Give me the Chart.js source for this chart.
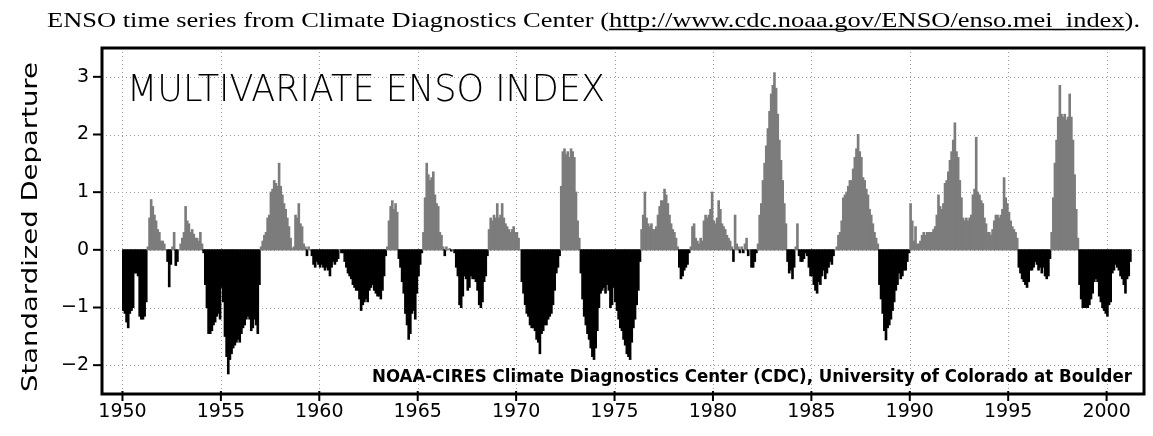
<!DOCTYPE html>
<html><head><meta charset="utf-8">
<script src="https://cdn.jsdelivr.net/npm/chart.js@4/dist/chart.umd.min.js"></script>
<style>html,body{margin:0;padding:0;background:#fff;}#wrap{width:1153px;height:436px;position:relative;}</style>
</head><body><div id="wrap"><canvas id="c" width="1153" height="436"></canvas></div>
<script>
// ---- Data (monthly MEI) ----
const startYear = 1950;
const mei1950s = [
 -1.05,-1.1,-1.25,-1.35,-1.1,-1.05,-1.0,-0.4,-0.4,-0.45,-1.15,-1.2,
 -1.2,-1.15,-0.9,0.05,0.55,0.87,0.75,0.6,0.5,0.35,0.3,0.15,
 0.15,0.1,0.0,-0.2,-0.64,-0.25,0.05,0.3,-0.27,-0.2,0.0,0.1,
 0.2,0.3,0.75,0.5,0.45,0.3,0.35,0.27,0.2,0.2,0.15,0.3,
 0.1,-0.05,-0.6,-1.0,-1.45,-1.45,-1.4,-1.3,-1.25,-1.15,-1.1,-1.2,
 -0.65,-0.9,-1.5,-1.85,-2.15,-1.9,-1.8,-1.7,-1.65,-1.6,-1.55,-1.6,
 -1.45,-1.35,-1.3,-1.2,-1.15,-1.2,-1.4,-1.35,-1.2,-1.3,-1.45,-0.6,
 0.05,0.15,0.25,0.3,0.55,0.6,1.0,1.05,1.2,1.15,1.1,1.5,
 1.1,0.95,0.8,0.7,0.55,0.4,0.2,0.02,0.05,0.6,0.55,0.8,
 0.45,0.4,0.1,0.05,-0.1,0.05,0.0,-0.1,-0.25,-0.3,-0.2,-0.25
];
const mei1960s = [
 -0.3,-0.25,-0.3,-0.35,-0.3,-0.35,-0.45,-0.3,-0.2,-0.25,-0.2,-0.15,
 0.0,-0.05,-0.05,-0.2,-0.3,-0.4,-0.45,-0.5,-0.6,-0.65,-0.7,-0.7,
 -0.85,-1.05,-0.95,-0.9,-0.85,-0.9,-0.7,-0.65,-0.6,-0.7,-0.75,-0.8,
 -0.8,-0.85,-0.7,-0.45,-0.1,0.05,0.5,0.75,0.85,0.7,0.8,0.65,
 -0.15,-0.3,-0.55,-0.75,-1.1,-1.3,-1.55,-1.45,-1.1,-1.05,-1.2,-0.75,
 -0.45,-0.25,-0.05,0.3,0.9,1.5,1.3,1.2,1.25,1.35,0.95,0.8,
 0.75,0.3,0.25,0.05,-0.1,0.05,0.0,0.02,-0.02,0.0,-0.05,-0.3,
 -0.45,-0.95,-1.0,-0.8,-0.45,-0.5,-0.7,-0.65,-0.45,-0.5,-0.5,-0.55,
 -0.7,-0.95,-1.0,-0.9,-0.55,-0.45,-0.1,0.35,0.55,0.5,0.6,0.55,
 0.8,0.55,0.6,0.8,0.55,0.45,0.4,0.35,0.3,0.35,0.4,0.3
];
const mei1970s = [
 0.3,0.2,0.0,-0.55,-0.75,-0.95,-1.1,-1.15,-1.3,-1.35,-1.35,-1.4,
 -1.55,-1.6,-1.8,-1.45,-1.4,-1.3,-1.3,-1.2,-1.15,-1.1,-0.95,-0.7,
 -0.4,-0.3,-0.1,1.1,1.7,1.75,1.65,1.7,1.6,1.75,1.7,1.6,
 1.0,0.5,0.2,-0.4,-0.85,-1.15,-1.3,-1.45,-1.55,-1.7,-1.85,-1.9,
 -1.7,-1.4,-1.0,-0.75,-0.7,-0.65,-0.75,-0.6,-0.7,-1.0,-0.95,-0.65,
 -0.9,-1.05,-1.2,-1.35,-1.4,-1.55,-1.65,-1.8,-1.85,-1.9,-1.6,-1.35,
 -1.2,-0.95,-0.7,-0.2,0.35,0.6,1.0,0.55,0.45,0.4,0.45,0.35,
 0.35,0.4,0.6,0.75,0.85,0.85,1.05,0.95,0.8,0.6,0.45,0.35,
 0.3,0.2,0.05,-0.3,-0.5,-0.45,-0.35,-0.3,-0.25,-0.05,0.05,0.4,
 0.45,0.2,0.15,0.1,0.2,0.15,0.5,0.6,0.55,0.6,0.7,1.0
];
const mei1980s = [
 0.5,0.45,0.55,0.85,0.7,0.45,0.4,0.35,0.25,0.2,0.15,0.05,
 -0.2,0.6,0.1,0.05,-0.05,0.05,-0.05,0.1,0.2,-0.1,0.0,-0.3,
 -0.3,-0.2,-0.05,0.1,0.6,0.8,1.2,1.5,1.8,2.1,2.4,2.7,
 2.85,3.07,2.8,2.35,1.9,1.55,1.2,0.8,0.45,-0.2,-0.4,-0.35,
 -0.5,-0.3,0.05,0.45,-0.1,-0.2,-0.2,-0.15,-0.05,-0.1,-0.3,-0.45,
 -0.45,-0.6,-0.7,-0.75,-0.55,-0.6,-0.45,-0.35,-0.5,-0.4,-0.3,-0.2,
 -0.25,-0.1,0.0,0.05,0.25,0.3,0.5,0.9,0.95,1.0,1.1,1.2,
 1.2,1.4,1.6,1.75,2.0,1.7,1.6,1.25,1.2,1.05,0.95,0.7,
 0.6,0.45,0.3,0.2,0.1,-0.6,-0.85,-1.1,-1.4,-1.56,-1.35,-1.3,
 -1.2,-1.05,-0.9,-0.7,-0.6,-0.4,-0.5,-0.45,-0.35,-0.35,-0.2,-0.05
];
const mei1990s = [
 0.8,0.5,0.15,0.4,0.1,0.1,0.15,0.25,0.3,0.25,0.3,0.3,
 0.3,0.3,0.35,0.4,0.6,0.95,0.75,0.7,0.8,1.15,1.2,1.35,
 1.55,1.7,1.9,2.2,1.7,1.6,1.2,0.9,0.55,0.5,0.55,0.5,
 0.55,0.6,0.95,1.05,1.95,1.0,0.95,0.85,0.8,0.55,0.45,0.3,
 0.3,0.25,0.35,0.5,0.6,0.6,0.55,0.6,0.7,1.25,0.9,0.8,
 0.65,0.5,0.4,0.35,0.3,0.2,-0.3,-0.4,-0.5,-0.55,-0.6,-0.65,
 -0.55,-0.35,-0.35,-0.3,-0.2,-0.25,-0.35,-0.3,-0.4,-0.3,-0.45,-0.5,
 -0.45,-0.15,0.3,0.9,1.5,1.9,2.3,2.85,2.35,2.3,2.35,2.25,
 2.3,2.7,2.3,1.9,1.3,0.7,0.2,-0.6,-0.85,-1.0,-1.0,-1.0,
 -1.0,-0.95,-0.85,-0.75,-0.55,-0.5,-0.55,-0.8,-0.9,-1.0,-1.05,-1.1
];
const mei2000s = [
 -1.15,-0.95,-0.9,-0.4,-0.35,-0.25,-0.3,-0.35,-0.45,-0.5,-0.6,-0.75,
 -0.5,-0.45,-0.2
];
const xTickYears = [1950,1955,1960,1965,1970,1975,1980,1985,1990,1995,2000];
const yTickValues = [-2,-1,0,1,2,3];
const headerPrefix = "ENSO time series from Climate Diagnostics Center (";
const headerUrl = "http://www.cdc.noaa.gov/ENSO/enso.mei_index";
const headerSuffix = ").";
const panelTitle = "MULTIVARIATE ENSO INDEX";
const creditText = "NOAA-CIRES Climate Diagnostics Center (CDC), University of Colorado at Boulder";
const yAxisTitle = "Standardized Departure";

// ---- Build points ----
const allValues = [].concat(mei1950s, mei1960s, mei1970s, mei1980s, mei1990s, mei2000s);
const points = allValues.map((v, i) => ({ x: startYear + (i + 0.5) / 12, y: v }));

const GRAY = '#7c7c7c';

function drawFitted(ctx, text, x, y, w, font, rotate) {
  ctx.save();
  ctx.font = font;
  ctx.textAlign = 'left';
  const m = ctx.measureText(text).width;
  const s = w / m;
  ctx.translate(x, y);
  if (rotate) ctx.rotate(rotate);
  ctx.scale(s, 1);
  ctx.fillStyle = '#000';
  ctx.fillText(text, 0, 0);
  ctx.restore();
  return s;
}

const decorPlugin = {
  id: 'decor',
  beforeDatasetsDraw(chart) {
    const { ctx, chartArea: a, scales: { x, y } } = chart;
    ctx.save();
    ctx.strokeStyle = '#9a9a9a';
    ctx.lineWidth = 1;
    ctx.setLineDash([1, 3]);
    xTickYears.forEach(t => {
      const px = Math.round(x.getPixelForValue(t)) + 0.5;
      ctx.beginPath(); ctx.moveTo(px, a.top); ctx.lineTo(px, a.bottom); ctx.stroke();
    });
    yTickValues.forEach(t => {
      const py = Math.round(y.getPixelForValue(t)) + 0.5;
      ctx.beginPath(); ctx.moveTo(a.left, py); ctx.lineTo(a.right, py); ctx.stroke();
    });
    ctx.restore();
  },
  afterDraw(chart) {
    const { ctx, chartArea: a, scales: { x, y } } = chart;
    ctx.save();
    ctx.strokeStyle = '#000';
    ctx.lineWidth = 3;
    ctx.strokeRect(a.left, a.top, a.right - a.left, a.bottom - a.top);
    ctx.lineWidth = 2;
    xTickYears.forEach(t => {
      const px = x.getPixelForValue(t);
      ctx.beginPath(); ctx.moveTo(px, a.bottom - 3); ctx.lineTo(px, a.bottom + 7); ctx.stroke();
    });
    yTickValues.forEach(t => {
      const py = y.getPixelForValue(t);
      ctx.beginPath(); ctx.moveTo(a.left - 9, py); ctx.lineTo(a.left, py); ctx.stroke();
    });
    ctx.restore();

    ctx.save();
    const hFont = '22px "Liberation Serif", "DejaVu Serif", serif';
    ctx.font = hFont;
    const full = headerPrefix + headerUrl + headerSuffix;
    const hs = drawFitted(ctx, full, 47, 27, 1093, hFont);
    ctx.font = hFont;
    const pw = ctx.measureText(headerPrefix).width * hs;
    const uw = ctx.measureText(headerUrl).width * hs;
    ctx.strokeStyle = '#000'; ctx.lineWidth = 1.3;
    ctx.beginPath(); ctx.moveTo(47 + pw, 29.5); ctx.lineTo(47 + pw + uw, 29.5); ctx.stroke();
    ctx.restore();

    drawFitted(ctx, panelTitle, 127, 101, 478, '200 38px "DejaVu Sans", sans-serif');
    drawFitted(ctx, creditText, 372, 382, 760, 'bold 17px "DejaVu Sans", sans-serif');
    ctx.save();
    ctx.textBaseline = 'middle';
    drawFitted(ctx, yAxisTitle, 31, 392, 330, '22px "DejaVu Sans", sans-serif', -Math.PI / 2);
    ctx.restore();
  }
};

new Chart(document.getElementById('c'), {
  type: 'bar',
  data: {
    datasets: [{
      data: points,
      backgroundColor: c => (c.raw && c.raw.y < 0) ? '#000000' : GRAY,
      borderWidth: 0,
      barPercentage: 1,
      categoryPercentage: 1,
      inflateAmount: 0.5
    }]
  },
  options: {
    responsive: false,
    animation: false,
    devicePixelRatio: 1,
    layout: { padding: { top: 48, right: 9, left: 0, bottom: 0 } },
    plugins: { legend: { display: false }, tooltip: { enabled: false }, title: { display: false } },
    scales: {
      x: {
        type: 'linear',
        min: 1948.96,
        max: 2001.9,
        offset: false,
        afterBuildTicks: s => { s.ticks = xTickYears.map(v => ({ value: v })); },
        afterFit: s => { s.height = 42; },
        grid: { display: false, drawTicks: false },
        border: { display: false },
        ticks: {
          autoSkip: false, maxRotation: 0, padding: 7, color: '#000',
          font: { family: '"DejaVu Sans", sans-serif', size: 19 },
          callback: v => String(v)
        }
      },
      y: {
        min: -2.5,
        max: 3.5,
        afterBuildTicks: s => { s.ticks = yTickValues.map(v => ({ value: v })); },
        afterFit: s => { s.width = 102; },
        grid: { display: false, drawTicks: false },
        border: { display: false },
        ticks: {
          padding: 13, color: '#000',
          font: { family: '"DejaVu Sans", sans-serif', size: 19 },
          callback: v => (v < 0 ? '\u2212' : '') + Math.abs(v)
        }
      }
    }
  },
  plugins: [decorPlugin]
});
</script>
</body></html>
